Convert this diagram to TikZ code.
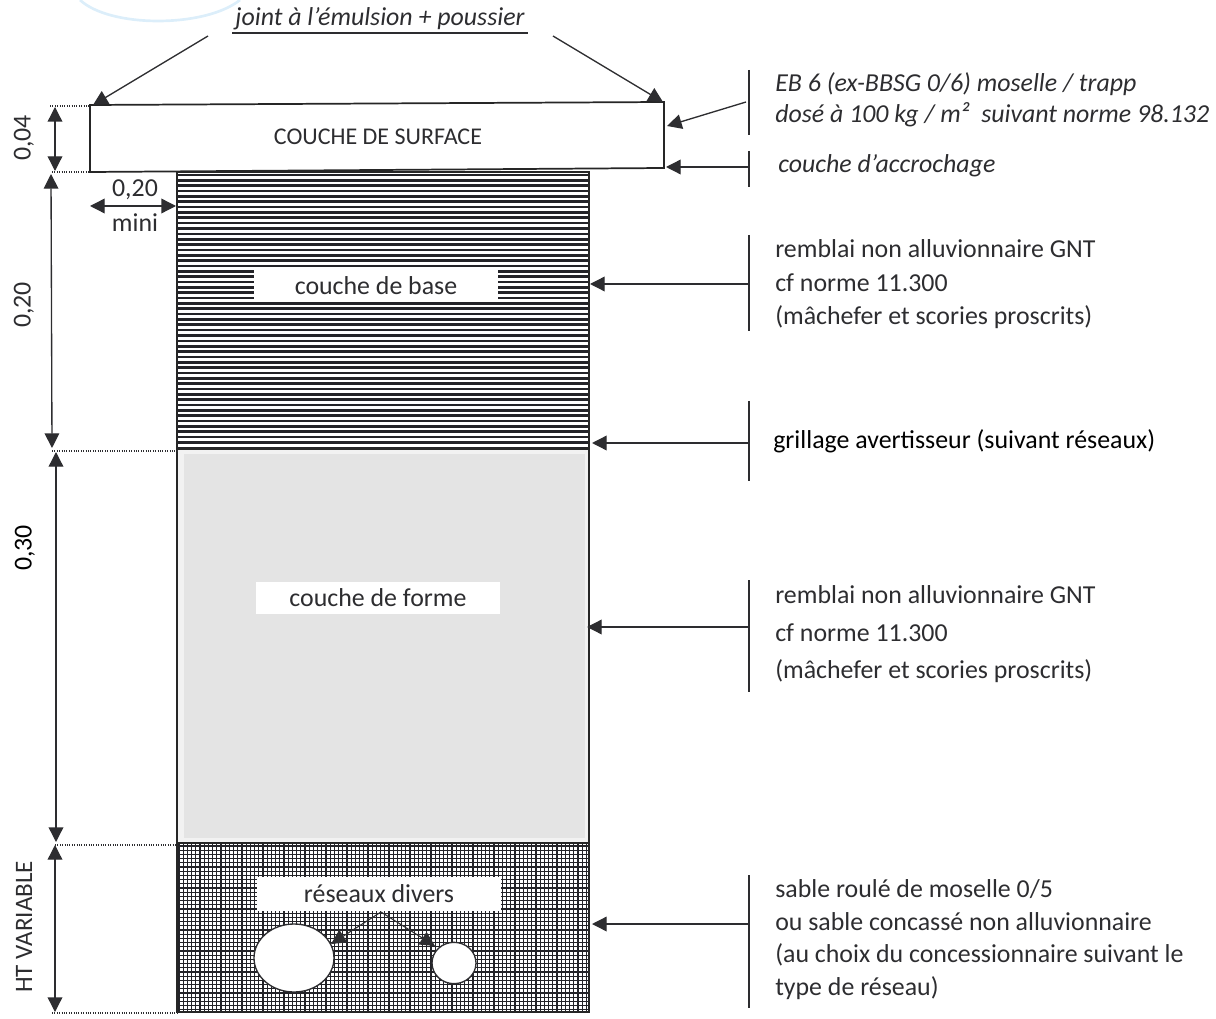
\documentclass[tikz,border=0pt]{standalone}
\usepackage{fontspec}
\setmainfont{Carlito}
\usetikzlibrary{arrows.meta}
\usetikzlibrary{shapes.geometric}
\definecolor{darkink}{RGB}{45, 45, 48}
\definecolor{hatchink}{RGB}{35, 35, 40}
\definecolor{formgray}{RGB}{228, 228, 228}
\definecolor{formgrayL}{RGB}{242, 242, 242}
\definecolor{stampblue}{RGB}{220, 238, 250}

\begin{document}
\begin{tikzpicture}[x = 0.75pt, y = -0.75pt,
	every node/.style = {font = \fontsize{19.4}{22}\selectfont, text = darkink, inner sep = 0pt},
	arrowline/.style = {draw = darkink, line width = 1pt, -{Triangle[length = 11pt, width = 11pt]}},
	dimline/.style = {draw = darkink, line width = 1pt, {Triangle[length = 11pt, width = 11pt]}-{Triangle[length = 11pt, width = 11pt]}},
	dotline/.style = {draw = darkink, line width = 0.8pt, densely dotted},
	barline/.style = {draw = darkink, line width = 1pt},
	layerline/.style = {draw = black!85, line width = 1.3pt},
	whitebox/.style = {fill = white, minimum width = 183pt, minimum height = 24pt},
	notetext/.style = {anchor = west},
	sidetext/.style = {rotate = 90}]
			\useasboundingbox (0,0) rectangle (1216,1019);
			\draw [stampblue, line width = 2pt] (80,0) .. controls (110,28) and (205,28) .. (240,0);

			\fill [white] (177,172) rectangle (589,449);
			\foreach \y in {175,180.35,...,449}
				\draw [hatchink, line width = 2pt] (177,\y) -- (589,\y);
			\fill [formgrayL] (177,449) rectangle (589,843);
			\fill [formgray] (184,454) rectangle (585,838);
			\foreach \y in {846,850.2,...,1012}
				\draw [hatchink, line width = 1pt] (177,\y) -- (589,\y);
			\foreach \x in {179,183.2,...,589}
				\draw [hatchink, line width = 1pt] (\x,843) -- (\x,1012);
			\draw [layerline] (177,172) rectangle (589,449);
			\draw [layerline] (177,449) rectangle (589,843);
			\draw [layerline] (177,843) rectangle (589,1012);
			\draw [layerline, fill = white] (90,105) -- (664,102) -- (664,168) -- (90,172) -- cycle;

			\node (surface) at (378,137) [font = \fontsize{18}{20}\selectfont] {COUCHE DE SURFACE};
			\node (base) at (376,286) [whitebox] {couche de base};
			\node (forme) at (378,598) [whitebox] {couche de forme};
			\node (reseaux) at (379,894) [whitebox, minimum height = 25pt] {réseaux divers};
			\node (bigpipe) at (294,958) [ellipse, draw = darkink, line width = 1pt, fill = white, minimum width = 60pt, minimum height = 51pt] {};
			\node (smallpipe) at (454,963) [ellipse, draw = darkink, line width = 1pt, fill = white, minimum width = 33pt, minimum height = 31pt] {};

			\node (joint) at (380,19) {\itshape joint à l'émulsion + poussier};
			\coordinate (jointL) at (208,36);
			\coordinate (jointR) at (553,36);
			\coordinate (cornerL) at (93,105);
			\coordinate (cornerR) at (663,102);
			\draw [barline] (232,33) -- (528,33);
			\draw [arrowline] (jointL) -- (cornerL);
			\draw [arrowline] (jointR) -- (cornerR);

			\coordinate (a1) at (55,107);
			\coordinate (a2) at (55,171);
			\coordinate (b1) at (51,174);
			\coordinate (b2) at (52,448);
			\coordinate (c1) at (56,452);
			\coordinate (c2) at (56,842);
			\coordinate (d1) at (55,845);
			\coordinate (d2) at (55,1012);
			\draw [dimline] (a1) -- (a2);
			\draw [dimline] (b1) -- (b2);
			\draw [dimline] (c1) -- (c2);
			\draw [dimline] (d1) -- (d2);
			\draw [dotline] (50,106) -- (89,106);
			\draw [dotline] (52,172) -- (89,172);
			\draw [dotline] (52,451) -- (177,451);
			\draw [dotline] (55,845) -- (177,845);
			\draw [dotline] (52,1013) -- (177,1013);

			\node (h04) at (24,138) [sidetext] {0,04};
			\node (h20) at (24,305) [sidetext] {0,20};
			\node (h30) at (25,548) [sidetext, text = black] {0,30};
			\node (hvar) at (24,927) [sidetext, font = \fontsize{18.8}{20}\selectfont] {HT VARIABLE};

			\coordinate (m1) at (90,206);
			\coordinate (m2) at (176,206);
			\draw [dimline] (m1) -- (m2);
			\node (m20) at (135,190) {0,20};
			\node (mini) at (135,223) {mini};

			\coordinate (s1) at (746,102);
			\coordinate (t1) at (667,126);
			\coordinate (s2) at (748,167);
			\coordinate (t2) at (666,167);
			\coordinate (s3) at (748,284);
			\coordinate (t3) at (590,284);
			\coordinate (s4) at (748,443);
			\coordinate (t4) at (592,443);
			\coordinate (s5) at (748,627);
			\coordinate (t5) at (587,627);
			\coordinate (s6) at (748,924);
			\coordinate (t6) at (592,924);
			\draw [arrowline] (s1) -- (t1);
			\draw [arrowline] (s2) -- (t2);
			\draw [arrowline] (s3) -- (t3);
			\draw [arrowline] (s4) -- (t4);
			\draw [arrowline] (s5) -- (t5);
			\draw [arrowline] (s6) -- (t6);
			\draw [barline] (749,70) -- (749,135);
			\draw [barline] (749,151) -- (749,187);
			\draw [barline] (749,235) -- (749,331);
			\draw [barline] (749,401) -- (749,481);
			\draw [barline] (749,580) -- (749,692);
			\draw [barline] (749,875) -- (749,1008);

			\node (eb1) at (775,84) [notetext] {\itshape EB 6 (ex-BBSG 0/6) moselle / trapp};
			\node (eb2) at (775,115) [notetext] {\itshape dosé à 100 kg / m²~ suivant norme 98.132};
			\node (accro) at (778,166) [notetext] {\itshape couche d'accrochage};
			\node (rem1) at (775,249) [notetext] {remblai non alluvionnaire GNT};
			\node (rem2) at (775,283) [notetext] {cf norme 11.300};
			\node (rem3) at (775,317) [notetext] {(mâchefer et scories proscrits)};
			\node (grill) at (773,441) [notetext, text = black] {grillage avertisseur (suivant réseaux)};
			\node (for1) at (775,595) [notetext] {remblai non alluvionnaire GNT};
			\node (for2) at (775,633) [notetext] {cf norme 11.300};
			\node (for3) at (775,671) [notetext] {(mâchefer et scories proscrits)};
			\node (sab1) at (775,889) [notetext] {sable roulé de moselle 0/5};
			\node (sab2) at (775,922) [notetext] {ou sable concassé non alluvionnaire};
			\node (sab3) at (775,955) [notetext] {(au choix du concessionnaire suivant le};
			\node (sab4) at (775,988) [notetext] {type de réseau)};

			\coordinate (r0) at (381,912);
			\coordinate (r1) at (331,944);
			\coordinate (r2) at (435,946);
			\draw [arrowline, line width = 0.8pt] (r0) -- (r1);
			\draw [arrowline, line width = 0.8pt] (r0) -- (r2);
			\end{tikzpicture}
\end{document}
